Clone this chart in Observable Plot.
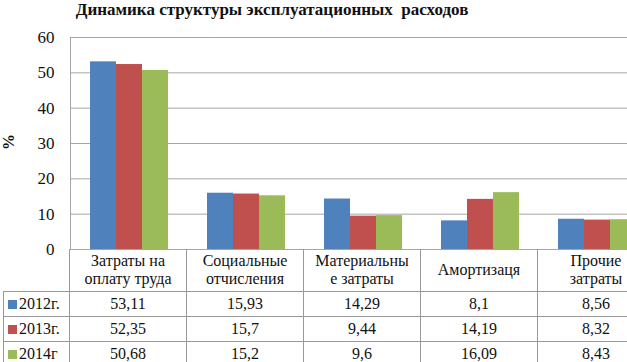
<!DOCTYPE html>
<html><head><meta charset="utf-8">
<script src="https://cdn.jsdelivr.net/npm/d3@7"></script>
<script src="https://cdn.jsdelivr.net/npm/@observablehq/plot@0.6"></script>
<style>
html body{margin:0;width:627px;height:362px;overflow:hidden;background:#fff;color:#111;}
html body #wrap, html body #wrap *{font-family:"Liberation Serif","Times New Roman",serif;}
#wrap{position:relative;width:661px;height:362px;}
#title{position:absolute;left:0;width:544px;top:0px;line-height:20px;text-align:center;font-weight:bold;font-size:17px;white-space:pre;}
#ylab{position:absolute;left:-1px;top:132px;width:20px;height:20px;line-height:20px;text-align:center;transform:rotate(-90deg);font-weight:bold;font-size:16px;}
#chart{position:absolute;left:0;top:0;}
table{position:absolute;left:3px;top:249px;border-collapse:collapse;table-layout:fixed;font-size:16px;line-height:18px;}
td{border:1px solid #999;text-align:center;padding:0;white-space:pre;overflow:visible;}
tr.head td{border-top:none;height:42px;}
tr.head td.corner{border-left:none;}
tr.row td{height:24px;}
td.leg{text-align:left;padding-left:4px;}
.key{display:inline-block;width:9px;height:9px;margin-right:2px;vertical-align:0px;}
</style>
</head><body>
<div id="wrap">
  <div id="chart"></div>
  <div id="title" style="font-family:'Liberation Serif',serif"></div>
  <div id="ylab" style="font-family:'Liberation Serif',serif">%</div>
</div>
<script>
const titleText = "Динамика структуры эксплуатационных  расходов";
const axisLabel = "%";
const categories = ["Затраты на оплату труда", "Социальные отчисления", "Материальные затраты", "Амортизаця", "Прочие затраты"];
const categoryLabels = ["Затраты на\nоплату труда", "Социальные\nотчисления", "Материальны\nе затраты", "Амортизаця", "Прочие\nзатраты"];
const years = ["2012г.", "2013г.", "2014г"];
const values2012 = [53.11, 15.93, 14.29, 8.1, 8.56];
const values2013 = [52.35, 15.7, 9.44, 14.19, 8.32];
const values2014 = [50.68, 15.2, 9.6, 16.09, 8.43];
const series = [values2012, values2013, values2014];
const colors = ["#4F81BD", "#C0504D", "#9BBB59"];
const yTicks = [0, 10, 20, 30, 40, 50, 60];
const serifFont = "'Liberation Serif', 'Times New Roman', serif";

document.getElementById("title").textContent = titleText;
document.getElementById("ylab").textContent = axisLabel;

const data = categories.flatMap((c, i) => years.map((y, j) => ({cat: c, year: y, value: series[j][i]})));

const chart = Plot.plot({
  width: 661, height: 362,
  marginTop: 37, marginBottom: 113, marginLeft: 70, marginRight: 6,
  style: {fontFamily: serifFont, fontSize: "16px", color: "#111", background: "transparent"},
  fx: {domain: categories, padding: 0, axis: null},
  x: {domain: years, paddingInner: 0, paddingOuter: 0.75, axis: null},
  y: {domain: [0, 60], axis: null},
  color: {domain: years, range: colors},
  marks: [
    Plot.gridY(yTicks, {stroke: "#a6a6a6", strokeOpacity: 1}),
    Plot.barY(data, {fx: "cat", x: "year", y: "value", fill: "year"}),
    Plot.axisY(yTicks, {tickSize: 0, tickPadding: 16, fontSize: 17, fill: "#111", label: null, fontFamily: serifFont}),
    Plot.frame({anchor: "left", facetAnchor: "left", stroke: "#a6a6a6", strokeOpacity: 1})
  ]
});
document.getElementById("chart").appendChild(chart);
chart.querySelectorAll("text").forEach(t => t.style.fontFamily = serifFont);

// data table below the chart
const table = document.createElement("table");
const colgroup = document.createElement("colgroup");
[66, ...categories.map(() => 117)].forEach(w => {
  const col = document.createElement("col"); col.style.width = w + "px"; colgroup.appendChild(col);
});
table.appendChild(colgroup);
const head = document.createElement("tr"); head.className = "head";
const corner = document.createElement("td"); corner.className = "corner"; head.appendChild(corner);
categoryLabels.forEach(l => { const td = document.createElement("td"); td.textContent = l; td.style.fontFamily = serifFont; head.appendChild(td); });
table.appendChild(head);
years.forEach((y, j) => {
  const tr = document.createElement("tr"); tr.className = "row";
  const td0 = document.createElement("td"); td0.className = "leg"; td0.style.fontFamily = serifFont;
  const key = document.createElement("span"); key.className = "key"; key.style.background = colors[j];
  td0.appendChild(key); td0.appendChild(document.createTextNode(y));
  tr.appendChild(td0);
  series[j].forEach(v => {
    const td = document.createElement("td"); td.textContent = String(v).replace(".", ","); td.style.fontFamily = serifFont; tr.appendChild(td);
  });
  table.appendChild(tr);
});
document.getElementById("wrap").appendChild(table);
</script>
</body></html>
